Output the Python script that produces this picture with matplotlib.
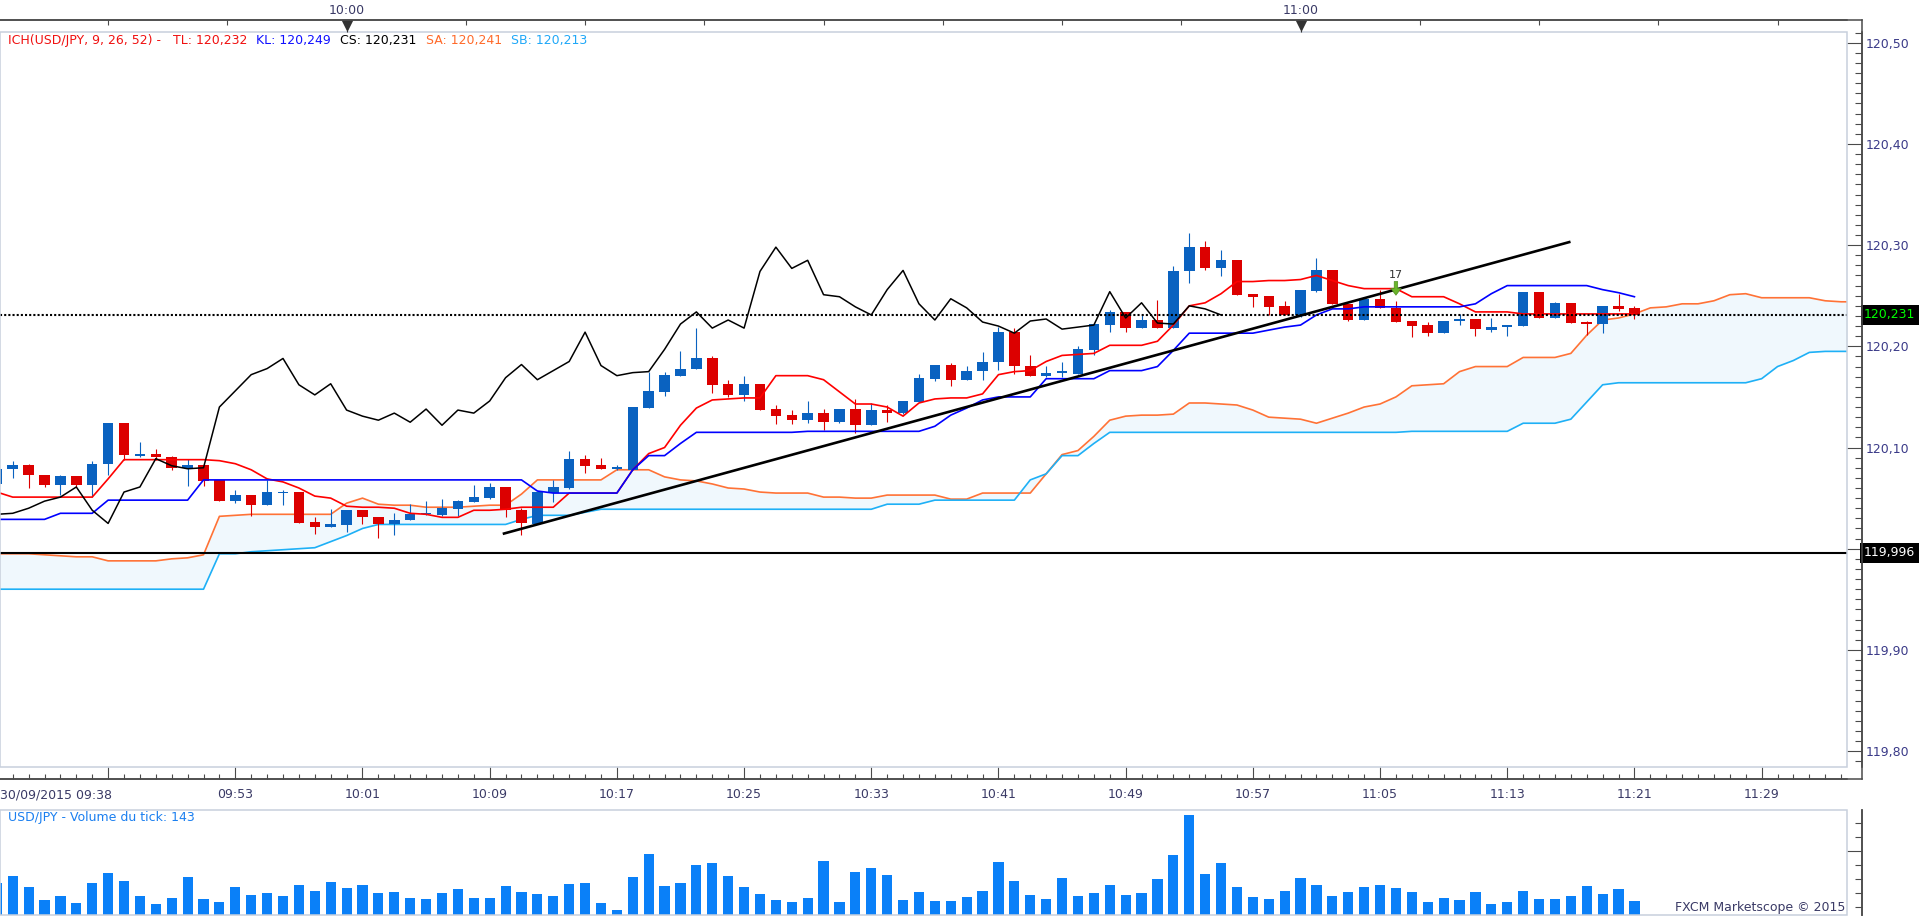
import numpy as np
import matplotlib
matplotlib.use("Agg")
from matplotlib import pyplot as plt
from matplotlib.patches import Rectangle
from matplotlib.lines import Line2D
from matplotlib.ticker import FixedLocator, FixedFormatter, MultipleLocator, FuncFormatter, NullFormatter

# USD/JPY 1-minute bars, 30/09/2015 09:38 .. 11:21 (index 0 = 09:38)
opens = [120.064, 120.079, 120.083, 120.073, 120.063, 120.072, 120.063, 120.084, 120.124, 120.092,
         120.094, 120.091, 120.080, 120.083, 120.068, 120.047, 120.053, 120.043, 120.055, 120.056,
         120.026, 120.021, 120.023, 120.038, 120.031, 120.024, 120.028, 120.034, 120.033, 120.039,
         120.046, 120.050, 120.061, 120.038, 120.024, 120.055, 120.060, 120.089, 120.083, 120.079,
         120.078, 120.139, 120.155, 120.171, 120.178, 120.188, 120.163, 120.152, 120.163, 120.138,
         120.132, 120.127, 120.134, 120.125, 120.138, 120.122, 120.137, 120.134, 120.145, 120.168,
         120.182, 120.167, 120.176, 120.185, 120.214, 120.181, 120.171, 120.174, 120.173, 120.196,
         120.221, 120.234, 120.218, 120.226, 120.218, 120.274, 120.298, 120.277, 120.285, 120.252,
         120.250, 120.240, 120.231, 120.255, 120.275, 120.242, 120.226, 120.247, 120.238, 120.225,
         120.221, 120.213, 120.225, 120.227, 120.216, 120.219, 120.220, 120.254, 120.228, 120.243,
         120.224, 120.222, 120.240, 120.238]
highs = [120.081, 120.087, 120.084, 120.073, 120.073, 120.072, 120.087, 120.124, 120.124, 120.105,
         120.099, 120.092, 120.089, 120.083, 120.068, 120.058, 120.053, 120.068, 120.058, 120.056,
         120.031, 120.039, 120.038, 120.038, 120.031, 120.035, 120.044, 120.047, 120.049, 120.048,
         120.063, 120.065, 120.061, 120.040, 120.056, 120.068, 120.097, 120.093, 120.090, 120.083,
         120.140, 120.175, 120.175, 120.195, 120.218, 120.190, 120.167, 120.171, 120.163, 120.142,
         120.137, 120.146, 120.138, 120.138, 120.148, 120.144, 120.142, 120.146, 120.173, 120.182,
         120.184, 120.181, 120.194, 120.219, 120.218, 120.191, 120.181, 120.185, 120.200, 120.222,
         120.236, 120.234, 120.232, 120.246, 120.279, 120.312, 120.304, 120.295, 120.285, 120.252,
         120.250, 120.245, 120.256, 120.287, 120.275, 120.242, 120.247, 120.256, 120.245, 120.225,
         120.224, 120.225, 120.232, 120.227, 120.228, 120.221, 120.254, 120.254, 120.244, 120.243,
         120.225, 120.240, 120.252, 120.240]
lows = [120.062, 120.070, 120.060, 120.061, 120.053, 120.061, 120.051, 120.073, 120.088, 120.091,
        120.088, 120.078, 120.062, 120.062, 120.047, 120.045, 120.032, 120.043, 120.043, 120.025,
        120.015, 120.021, 120.017, 120.024, 120.011, 120.014, 120.028, 120.033, 120.032, 120.032,
        120.046, 120.049, 120.031, 120.014, 120.024, 120.046, 120.059, 120.075, 120.079, 120.078,
        120.078, 120.139, 120.151, 120.171, 120.178, 120.154, 120.150, 120.146, 120.137, 120.123,
        120.123, 120.124, 120.117, 120.124, 120.114, 120.122, 120.125, 120.133, 120.145, 120.166,
        120.161, 120.167, 120.167, 120.177, 120.173, 120.171, 120.170, 120.170, 120.173, 120.191,
        120.214, 120.214, 120.218, 120.218, 120.218, 120.263, 120.275, 120.269, 120.251, 120.239,
        120.231, 120.231, 120.229, 120.254, 120.242, 120.225, 120.226, 120.238, 120.224, 120.209,
        120.210, 120.213, 120.221, 120.210, 120.214, 120.210, 120.220, 120.228, 120.228, 120.223,
        120.211, 120.213, 120.235, 120.227]
closes = [120.079, 120.083, 120.073, 120.063, 120.072, 120.063, 120.084, 120.124, 120.093, 120.094,
          120.091, 120.080, 120.083, 120.067, 120.047, 120.053, 120.043, 120.056, 120.056, 120.025,
          120.021, 120.024, 120.038, 120.031, 120.024, 120.028, 120.034, 120.035, 120.040, 120.047,
          120.051, 120.061, 120.038, 120.025, 120.056, 120.061, 120.089, 120.082, 120.079, 120.080,
          120.140, 120.156, 120.172, 120.178, 120.188, 120.162, 120.152, 120.163, 120.137, 120.131,
          120.127, 120.134, 120.125, 120.138, 120.122, 120.137, 120.134, 120.146, 120.169, 120.182,
          120.167, 120.176, 120.185, 120.214, 120.181, 120.171, 120.174, 120.175, 120.197, 120.222,
          120.234, 120.218, 120.226, 120.218, 120.274, 120.298, 120.277, 120.285, 120.251, 120.249,
          120.239, 120.231, 120.256, 120.275, 120.242, 120.226, 120.247, 120.238, 120.224, 120.220,
          120.213, 120.225, 120.227, 120.217, 120.219, 120.221, 120.254, 120.228, 120.243, 120.223,
          120.222, 120.240, 120.237, 120.231]
volumes = [320, 398, 286, 153, 194, 123, 327, 429, 347, 194,
           112, 174, 388, 163, 133, 286, 204, 225, 194, 306,
           245, 337, 276, 306, 225, 235, 174, 163, 225, 266,
           174, 174, 296, 235, 215, 194, 317, 327, 123, 51,
           388, 623, 296, 327, 511, 531, 398, 286, 215, 153,
           133, 174, 552, 133, 439, 480, 409, 153, 235, 143,
           143, 184, 245, 541, 347, 204, 163, 378, 194, 225,
           306, 204, 225, 368, 613, 1011, 419, 531, 286, 184,
           163, 245, 378, 306, 194, 235, 286, 306, 276, 235,
           133, 174, 153, 235, 112, 133, 245, 163, 163, 194,
           296, 215, 266, 143]

# Ichimoku lines as drawn
tenkan = [120.056, 120.051, 120.051, 120.051, 120.051, 120.051, 120.051, 120.069, 120.088, 120.088,
          120.088, 120.088, 120.088, 120.088, 120.087, 120.084, 120.078, 120.069, 120.066, 120.060,
          120.052, 120.050, 120.042, 120.041, 120.041, 120.040, 120.035, 120.034, 120.031, 120.031,
          120.038, 120.038, 120.039, 120.041, 120.041, 120.041, 120.055, 120.055, 120.055, 120.055,
          120.078, 120.094, 120.100, 120.122, 120.139, 120.147, 120.148, 120.149, 120.149, 120.171,
          120.171, 120.171, 120.167, 120.155, 120.143, 120.143, 120.140, 120.131, 120.144, 120.148,
          120.149, 120.149, 120.153, 120.172, 120.175, 120.176, 120.185, 120.191, 120.192, 120.193,
          120.201, 120.201, 120.201, 120.205, 120.221, 120.240, 120.243, 120.252, 120.264, 120.264,
          120.265, 120.265, 120.266, 120.270, 120.265, 120.260, 120.257, 120.257, 120.257, 120.249,
          120.249, 120.249, 120.242, 120.234, 120.234, 120.234, 120.232, 120.232, 120.232, 120.232,
          120.232, 120.232, 120.232, 120.232]
kijun = ([120.029] * 4 + [120.035] * 3 + [120.048] * 6 + [120.068] * 21 + [120.057] + [120.055] * 5
         + [120.078, 120.092, 120.092, 120.104] + [120.115] * 7 + [120.116] * 8
         + [120.121, 120.132, 120.139, 120.147] + [120.150] * 3 + [120.168] * 4 + [120.176] * 3
         + [120.180, 120.196] + [120.213] * 5 + [120.216, 120.219, 120.221, 120.231, 120.237, 120.237]
         + [120.239] * 7 + [120.242, 120.252] + [120.260] * 6 + [120.256, 120.253, 120.249])
senkou_a = [119.995, 119.995, 119.995, 119.994, 119.993, 119.992, 119.992, 119.988, 119.988, 119.988,
            119.988, 119.990, 119.991, 119.994, 120.032, 120.033, 120.034, 120.034, 120.034, 120.034,
            120.034, 120.034, 120.045, 120.050, 120.044, 120.043, 120.043, 120.041, 120.041, 120.041,
            120.042, 120.043, 120.043, 120.054, 120.068, 120.068, 120.068, 120.068, 120.068, 120.078,
            120.078, 120.078, 120.071, 120.068, 120.067, 120.064, 120.060, 120.059, 120.056, 120.055,
            120.055, 120.055, 120.051, 120.051, 120.050, 120.050, 120.053, 120.053, 120.053, 120.053,
            120.049, 120.049, 120.055, 120.055, 120.055, 120.055, 120.074, 120.093, 120.097, 120.111,
            120.127, 120.131, 120.132, 120.132, 120.133, 120.144, 120.144, 120.143, 120.142, 120.137,
            120.130, 120.129, 120.128, 120.124, 120.129, 120.134, 120.140, 120.143, 120.150, 120.161,
            120.162, 120.163, 120.175, 120.180, 120.180, 120.180, 120.189, 120.189, 120.189, 120.193,
            120.211, 120.226, 120.228, 120.232, 120.238, 120.239, 120.242, 120.242, 120.245, 120.251,
            120.252, 120.248, 120.248, 120.248, 120.248, 120.245, 120.244, 120.244]
senkou_b = ([119.960] * 14 + [119.995, 119.995, 119.997, 119.998, 119.999, 120.000, 120.001, 120.007,
            120.013, 120.020] + [120.024] * 9 + [120.029, 120.033, 120.033, 120.033, 120.036]
            + [120.039] * 18 + [120.044] * 3 + [120.048] * 6 + [120.068, 120.074, 120.092, 120.092,
            120.104] + [120.115] * 19 + [120.116] * 7 + [120.124] * 3 + [120.128, 120.145, 120.162]
            + [120.164] * 9 + [120.168, 120.180, 120.186, 120.194, 120.195, 120.195, 120.195])

# drawn objects
trend_x = [31.9, 98.9]
trend_y = [120.015, 120.303]
stop_level = 119.996
last_price = 120.231
sell_x, sell_tip, sell_tail, sell_text = 88, 120.2505, 120.2640, "17"
buy_x, buy_tip, buy_tail = 0.05, 120.0497, 120.0395

bottom_ticks = [7, 15, 23, 31, 39, 47, 55, 63, 71, 79, 87, 95, 103, 111]
bottom_labels = ["", "09:53", "10:01", "10:09", "10:17", "10:25", "10:33", "10:41",
                 "10:49", "10:57", "11:05", "11:13", "11:21", "11:29"]
date_label = "30/09/2015 09:38"
top_ticks = [7 + 7.5 * k for k in range(15)]
top_labels = ["10:00" if t == 22 else "11:00" if t == 82 else "" for t in top_ticks]
hour_marks = [22, 82]

legend_parts = [("ICH(USD/JPY, 9, 26, 52) -", "#f01010", 8), ("TL: 120,232", "#f01010", 173),
                ("KL: 120,249", "#1010ff", 256), ("CS: 120,231", "#000000", 340),
                ("SA: 120,241", "#ff6a2a", 425.5), ("SB: 120,213", "#20a8f8", 511)]

BLUE, RED = "#0a62c0", "#dc0000"
AXIS, BORDER = "#4a4a4a", "#c8d0dc"
LABEL, LABEL_R = "#3a3a66", "#3a3a88"

W, H = 1919, 916
PT = 72 / 100   # points per pixel


def box(x0, y0, x1, y1):
    return [x0 / W, 1 - y1 / H, (x1 - x0) / W, (y1 - y0) / H]


def fig_line(x0, y0, x1, y1):
    fig.add_artist(Line2D([x0 / W, x1 / W], [1 - y0 / H, 1 - y1 / H],
                          transform=fig.transFigure, color=AXIS, lw=1.1))


def price_fmt(v, pos):
    # the 120,00 label sits under the black 119,996 box in the original
    if abs(v - 120.0) < 1e-6:
        return ""
    return f"{v:.2f}".replace(".", ",")


fig = plt.figure(figsize=(W / 100, H / 100), dpi=100)
ax = fig.add_axes(box(0, 32, 1847, 767))
axv = fig.add_axes(box(0, 810, 1847, 915))

o, h, l, c = map(np.array, (opens, highs, lows, closes))
x = np.arange(len(c))
xc = np.arange(len(senkou_a))
col = np.where(c >= o, BLUE, RED)

ax.fill_between(xc, senkou_a, senkou_b, color="#f0f8fd", lw=0, zorder=1)
ax.plot(xc, senkou_a, color="#ff7236", lw=1.2, zorder=2)
ax.plot(xc, senkou_b, color="#1eb0f6", lw=1.2, zorder=2)
ax.axhline(stop_level, color="black", lw=1.5, zorder=2)
ax.vlines(x, l, h, colors=col, lw=0.8, zorder=3)
ax.bar(x, np.maximum(np.abs(c - o), 0.0015), bottom=np.minimum(o, c), width=0.66,
       color=col, lw=0, zorder=3)
ax.plot(x, tenkan, color="#ff0000", lw=1.2, zorder=4)
ax.plot(x, kijun, color="#0000ff", lw=1.2, zorder=4)
ax.plot(x[:len(c) - 26], c[26:], color="black", lw=1.1, zorder=4)   # chikou
ax.axhline(last_price, color="black", lw=1.5, ls=(0, (1, 1)), zorder=4)
ax.plot(trend_x, trend_y, color="black", lw=1.9, zorder=5)

ax.annotate("", xy=(sell_x, sell_tip), xytext=(sell_x, sell_tail),
            arrowprops=dict(arrowstyle="simple,head_length=0.5,head_width=0.75,tail_width=0.25",
                            fc="#6ab42a", ec="#4e8f1f", lw=0.5, shrinkA=0, shrinkB=0,
                            mutation_scale=10), zorder=6)
ax.text(sell_x, sell_tail + 0.006, sell_text, ha="center", va="center", fontsize=8, color="#333333")
ax.annotate("", xy=(buy_x, buy_tip), xytext=(buy_x, buy_tail),
            arrowprops=dict(arrowstyle="simple,head_length=0.5,head_width=0.75,tail_width=0.25",
                            fc="#6ab42a", ec="#4e8f1f", lw=0.5, shrinkA=0, shrinkB=0,
                            mutation_scale=10), zorder=6)

ax.set_xlim(0.2, 116.37)
ax.set_ylim(119.7843, 120.5106)

# right price axis
ax.yaxis.tick_right()
for s in ("left", "top"):
    ax.spines[s].set_visible(False)
ax.spines["right"].set_position(("outward", 15 * PT))
ax.spines["bottom"].set_position(("outward", 12 * PT))
for s in ("right", "bottom"):
    ax.spines[s].set_color(AXIS)
    ax.spines[s].set_linewidth(1.1)
ax.yaxis.set_major_locator(MultipleLocator(0.1))
ax.yaxis.set_minor_locator(MultipleLocator(0.01))
ax.yaxis.set_major_formatter(FuncFormatter(price_fmt))
ax.tick_params(axis="y", which="major", direction="in", length=15 * PT, width=0.8, color=AXIS,
               labelsize=9, labelcolor=LABEL_R, pad=3)
ax.tick_params(axis="y", which="minor", direction="in", length=7 * PT, width=0.8, color=AXIS)

# bottom time axis
ax.xaxis.set_major_locator(FixedLocator(bottom_ticks))
ax.xaxis.set_major_formatter(FixedFormatter(bottom_labels))
ax.xaxis.set_minor_locator(FixedLocator(np.arange(0, 117)))
ax.tick_params(axis="x", which="major", direction="in", length=12 * PT, width=0.8, color=AXIS,
               labelsize=9, labelcolor=LABEL, pad=6.5)
ax.tick_params(axis="x", which="minor", direction="in", length=5 * PT, width=0.8, color=AXIS)
ax.text(0, -0.0381, date_label, transform=ax.transAxes, ha="left", va="center",
        fontsize=9, color=LABEL)

# top hour axis
axt = ax.twiny()
axt.set_xlim(ax.get_xlim())
for s in ("left", "right", "bottom"):
    axt.spines[s].set_visible(False)
axt.spines["top"].set_position(("outward", 12 * PT))
axt.spines["top"].set_color(AXIS)
axt.spines["top"].set_linewidth(1.1)
axt.xaxis.set_major_locator(FixedLocator(top_ticks))
axt.xaxis.set_major_formatter(FixedFormatter(top_labels))
axt.tick_params(axis="x", which="major", direction="in", length=5 * PT, width=0.8, color=AXIS,
                labelsize=9, labelcolor=LABEL, pad=2.5)
axt.plot(hour_marks, [1.0095] * len(hour_marks), transform=axt.get_xaxis_transform(), ls="none",
         marker="v", ms=7, color="#333333", clip_on=False)
axt.vlines(hour_marks, 1.0, 1.0163, transform=axt.get_xaxis_transform(), colors="#333333",
           lw=0.8, clip_on=False)

# legend line
for txt, colr, px in legend_parts:
    ax.text(px / 1847, (767 - 40.7) / 735, txt, transform=ax.transAxes, ha="left", va="center",
            fontsize=9, color=colr)

# price boxes on the right axis
ax.text(1864 / 1847, last_price, f"{last_price:.3f}".replace(".", ","),
        transform=ax.get_yaxis_transform(), ha="left", va="center", fontsize=9, color="#00ff00",
        bbox=dict(boxstyle="square,pad=0.25", fc="black", ec="none"), zorder=10, clip_on=False)
ax.text(1864 / 1847, stop_level, f"{stop_level:.3f}".replace(".", ","),
        transform=ax.get_yaxis_transform(), ha="left", va="center", fontsize=9, color="white",
        bbox=dict(boxstyle="square,pad=0.3", fc="black", ec="none"), zorder=10, clip_on=False)

# volume panel
axv.bar(x, volumes, width=0.64, color="#0a80f8", lw=0)
axv.set_xlim(ax.get_xlim())
axv.set_ylim(0, 1066)
axv.set_xticks([])
axv.yaxis.tick_right()
for s in ("left", "top", "bottom"):
    axv.spines[s].set_visible(False)
axv.spines["right"].set_position(("outward", 15 * PT))
axv.spines["right"].set_color(AXIS)
axv.spines["right"].set_linewidth(1.1)
axv.yaxis.set_major_locator(FixedLocator([654]))
axv.yaxis.set_minor_locator(FixedLocator([81, 221, 365, 508, 794, 936]))
axv.yaxis.set_major_formatter(NullFormatter())
axv.tick_params(axis="y", which="major", direction="in", length=15 * PT, width=0.8, color=AXIS)
axv.tick_params(axis="y", which="minor", direction="in", length=7 * PT, width=0.8, color=AXIS)
axv.text(8 / 1847, 0.927, f"USD/JPY - Volume du tick: {volumes[-1]}", transform=axv.transAxes,
         ha="left", va="center", fontsize=9, color="#1a7ff0")
axv.text(1845.5 / 1847, 0.067, "FXCM Marketscope \u00a9 2015", transform=axv.transAxes,
         ha="right", va="center", fontsize=9, color=LABEL)

# panel borders and axis frame lines
for a in (ax, axv):
    a.add_patch(Rectangle((0, 0), 1, 1, transform=a.transAxes, fill=False, ec=BORDER, lw=1.1,
                          clip_on=False, zorder=6))
fig_line(0, 20, 1862, 20)
fig_line(1862, 20, 1862, 779)
fig_line(0, 779, 1862, 779)
fig_line(1862, 810, 1862, 916)

fig.savefig("out.png", dpi=100)
